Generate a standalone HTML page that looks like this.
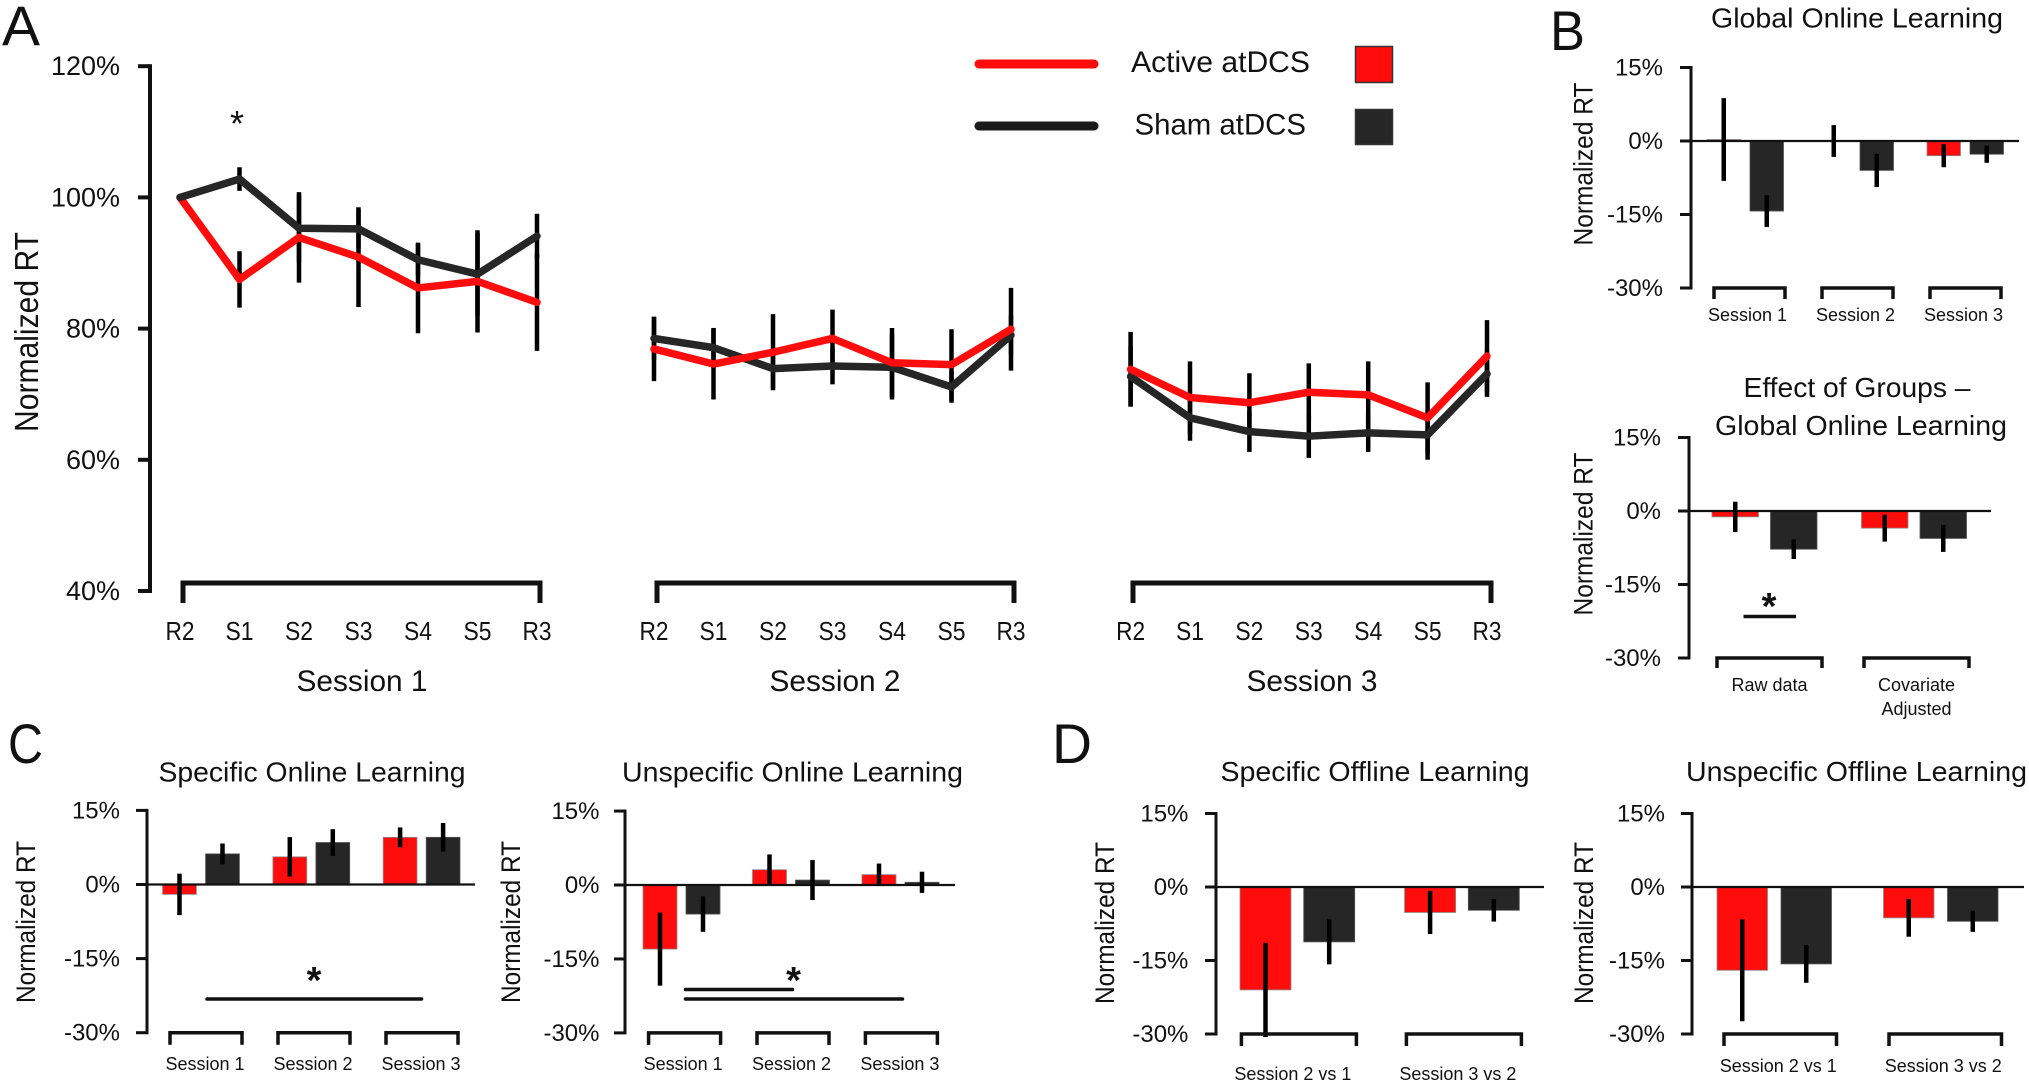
<!DOCTYPE html>
<html lang="en">
<head>
<meta charset="utf-8">
<title>Normalized RT by session and stimulation group</title>
<style>
  html, body { margin: 0; padding: 0; background: #fff; }
  svg { display: block; font-family: "Liberation Sans", sans-serif; fill: #111; }
</style>
</head>
<body>
<svg id="figure" xmlns="http://www.w3.org/2000/svg" width="2029" height="1084" viewBox="0 0 2029 1084">
  <rect x="0" y="0" width="2029" height="1084" fill="#fff"/>

  <text x="2" y="45" font-size="56" textLength="38" lengthAdjust="spacingAndGlyphs">A</text>
  <text x="1550" y="50" font-size="56" textLength="35" lengthAdjust="spacingAndGlyphs">B</text>
  <text x="8" y="763" font-size="56" textLength="35" lengthAdjust="spacingAndGlyphs">C</text>
  <text x="1052" y="763" font-size="56" textLength="40" lengthAdjust="spacingAndGlyphs">D</text>

  <g>
    <line x1="979" y1="64" x2="1094" y2="64" stroke="#ff0d0d" stroke-width="9" stroke-linecap="round"/>
    <text x="1131" y="72" font-size="30" textLength="179" lengthAdjust="spacingAndGlyphs">Active atDCS</text>
    <rect x="1355.5" y="46.5" width="37" height="36" fill="#ff0d0d" stroke="#333" stroke-width="1.5"/>
    <line x1="979" y1="126" x2="1094" y2="126" stroke="#1a1a1a" stroke-width="9" stroke-linecap="round"/>
    <text x="1134.5" y="134.5" font-size="30" textLength="171.5" lengthAdjust="spacingAndGlyphs">Sham atDCS</text>
    <rect x="1355.5" y="109.5" width="37" height="35" fill="#262626" stroke="#333" stroke-width="1.5"/>
  </g>

  <text x="237" y="136" font-size="36" text-anchor="middle">*</text>

  <text x="1857" y="27.5" font-size="28" text-anchor="middle" textLength="292" lengthAdjust="spacingAndGlyphs">Global Online Learning</text>
  <text x="1857" y="397" font-size="28" text-anchor="middle" textLength="227" lengthAdjust="spacingAndGlyphs">Effect of Groups –</text>
  <text x="1861" y="435" font-size="28" text-anchor="middle" textLength="292" lengthAdjust="spacingAndGlyphs">Global Online Learning</text>
  <text x="312" y="781.5" font-size="28" text-anchor="middle" textLength="307" lengthAdjust="spacingAndGlyphs">Specific Online Learning</text>
  <text x="792.5" y="781.5" font-size="28" text-anchor="middle" textLength="341" lengthAdjust="spacingAndGlyphs">Unspecific Online Learning</text>
  <text x="1375" y="781" font-size="28" text-anchor="middle" textLength="309" lengthAdjust="spacingAndGlyphs">Specific Offline Learning</text>
  <text x="1856.5" y="781" font-size="28" text-anchor="middle" textLength="341" lengthAdjust="spacingAndGlyphs">Unspecific Offline Learning</text>

  <text transform="translate(38,332) rotate(-90)" font-size="33" text-anchor="middle" textLength="200" lengthAdjust="spacingAndGlyphs">Normalized RT</text>
  <text transform="translate(1592.5,164) rotate(-90)" font-size="27" text-anchor="middle" textLength="163" lengthAdjust="spacingAndGlyphs">Normalized RT</text>
  <text transform="translate(1592.5,534) rotate(-90)" font-size="27" text-anchor="middle" textLength="163" lengthAdjust="spacingAndGlyphs">Normalized RT</text>
  <text transform="translate(35,922) rotate(-90)" font-size="27" text-anchor="middle" textLength="162" lengthAdjust="spacingAndGlyphs">Normalized RT</text>
  <text transform="translate(520,922) rotate(-90)" font-size="27" text-anchor="middle" textLength="162" lengthAdjust="spacingAndGlyphs">Normalized RT</text>
  <text transform="translate(1114,923) rotate(-90)" font-size="27" text-anchor="middle" textLength="162" lengthAdjust="spacingAndGlyphs">Normalized RT</text>
  <text transform="translate(1593,923) rotate(-90)" font-size="27" text-anchor="middle" textLength="162" lengthAdjust="spacingAndGlyphs">Normalized RT</text>

  <g id="marks"></g>

  <g stroke="none">
    <line x1="1743.5" y1="616.5" x2="1796" y2="616.5" stroke="#111" stroke-width="3.5"/>
    <text x="1769" y="619" font-size="38" font-weight="bold" text-anchor="middle">*</text>
    <line x1="207" y1="999" x2="421.5" y2="999" stroke="#111" stroke-width="3.5" stroke-linecap="round"/>
    <text x="314" y="993" font-size="38" font-weight="bold" text-anchor="middle">*</text>
    <line x1="685.5" y1="989.5" x2="792.5" y2="989.5" stroke="#111" stroke-width="3.5" stroke-linecap="round"/>
    <line x1="685.5" y1="999" x2="902.5" y2="999" stroke="#111" stroke-width="3.5" stroke-linecap="round"/>
    <text x="793.5" y="993" font-size="38" font-weight="bold" text-anchor="middle">*</text>
  </g>
</svg>

<script>
// ---------- Panel A data (normalized RT, %) ----------
const pointLabels = ['R2', 'S1', 'S2', 'S3', 'S4', 'S5', 'R3'];
const sessionNames = ['Session 1', 'Session 2', 'Session 3'];
const panelATicks = [120, 100, 80, 60, 40];

const session1Active = [100, 87.5, 93.9, 90.9, 86.2, 87.2, 84];
const session1Sham = [100, 102.8, 95.3, 95.2, 90.5, 88.3, 94.1];
const session1ActiveErr = [0, 4.3, 6.9, 7.6, 6.9, 7.8, 7.4];
const session1ShamErr = [0, 1.8, 5.2, 3, 2.4, 6.3, 3.4];

const session2Active = [76.9, 74.6, 76.4, 78.5, 74.8, 74.5, 79.9];
const session2Sham = [78.5, 77.1, 73.9, 74.3, 74.1, 71.1, 79];
const session2ActiveErr = [4.9, 5.4, 5.8, 4.4, 5.3, 5.4, 6.3];
const session2ShamErr = [3.3, 3, 3, 2.8, 4.9, 2.4, 3];

const session3Active = [73.8, 69.5, 68.7, 70.3, 69.9, 66.4, 75.8];
const session3Sham = [72.7, 66.4, 64.3, 63.6, 64.1, 63.8, 73.1];
const session3ActiveErr = [5.7, 5.5, 4.5, 4.4, 5.1, 5.4, 5.5];
const session3ShamErr = [4.6, 3.5, 3.1, 3.3, 2.9, 3.8, 3.5];

// ---------- Bar panel data (normalized RT, %) ----------
const barTicks = [15, 0, -15, -30];
const onlineGroups = ['Session 1', 'Session 2', 'Session 3'];
const effectGroups = ['Raw data', 'Covariate\nAdjusted'];
const offlineGroups = ['Session 2 vs 1', 'Session 3 vs 2'];

const globalActive = [0.3, 0, -3];
const globalSham = [-14.3, -6, -2.7];
const globalActiveErr = [8.45, 3.25, 2.35];
const globalShamErr = [3.25, 3.4, 1.75];

const effectActive = [-1.2, -3.5];
const effectSham = [-7.8, -5.6];
const effectActiveErr = [3.1, 2.75];
const effectShamErr = [2, 2.75];

const specificOnlineActive = [-2, 5.6, 9.55];
const specificOnlineSham = [6.2, 8.5, 9.55];
const specificOnlineActiveErr = [4.2, 4, 2];
const specificOnlineShamErr = [2.1, 2.7, 2.9];

const unspecificOnlineActive = [-13, 3.1, 2.1];
const unspecificOnlineSham = [-5.9, 1, 0.55];
const unspecificOnlineActiveErr = [7.4, 3.1, 2.25];
const unspecificOnlineShamErr = [3.6, 4.05, 2.15];

const specificOfflineActive = [-21, -5.2];
const specificOfflineSham = [-11.2, -4.75];
const specificOfflineActiveErr = [9.6, 4.4];
const specificOfflineShamErr = [4.6, 2.3];

const unspecificOfflineActive = [-17, -6.3];
const unspecificOfflineSham = [-15.7, -7];
const unspecificOfflineActiveErr = [10.4, 3.85];
const unspecificOfflineShamErr = [3.85, 2.15];

// ---------- Drawing ----------
const RED = '#ff0d0d';
const DARK = '#262626';
const INK = '#111';
const SVG_NS = 'http://www.w3.org/2000/svg';
const root = document.getElementById('marks');

function make(tag, attrs, name, text) {
  const el = document.createElementNS(SVG_NS, tag);
  for (const key in attrs) el.setAttribute(key, attrs[key]);
  
  
  if (text !== undefined) el.textContent = text;
  root.appendChild(el);
  return el;
}
function line(x1, y1, x2, y2, color, width, name, cap) {
  return make('line', { x1, y1, x2, y2, stroke: color, 'stroke-width': width, 'stroke-linecap': cap || 'butt' }, name);
}

// ---- Panel A ----
const yA = v => 197.4 + (100 - v) * 6.56;
const panelASessions = [
  { id: 'session-1', active: session1Active, sham: session1Sham, activeErr: session1ActiveErr, shamErr: session1ShamErr, x0: 180, step: 59.5, bracket: [183, 540], labelX: 362, shamOnTop: true },
  { id: 'session-2', active: session2Active, sham: session2Sham, activeErr: session2ActiveErr, shamErr: session2ShamErr, x0: 654, step: 59.5, bracket: [657, 1014], labelX: 835, shamOnTop: false },
  { id: 'session-3', active: session3Active, sham: session3Sham, activeErr: session3ActiveErr, shamErr: session3ShamErr, x0: 1130.6, step: 59.4, bracket: [1133, 1491], labelX: 1312, shamOnTop: false }
];

line(150, yA(panelATicks[0]) - 2, 150, yA(panelATicks[panelATicks.length - 1]) + 2, INK, 4, 'panel-a-y-axis');
panelATicks.forEach(t => {
  line(138, yA(t), 150, yA(t), INK, 4, 'panel-a-y-tick');
  make('text', { x: 120, y: yA(t) + 9, 'font-size': 27, 'text-anchor': 'end' }, 'panel-a-y-tick-label', t + '%');
});

panelASessions.forEach((s, si) => {
  const xOf = i => s.x0 + i * s.step;
  const err = (vals, errs, series) => vals.forEach((v, i) => {
    if (errs[i] > 0) line(xOf(i), yA(v + errs[i]), xOf(i), yA(v - errs[i]), '#000', 4.5, s.id + '-' + series + '-error-bar');
  });
  err(s.sham, s.shamErr, 'sham');
  err(s.active, s.activeErr, 'active');

  const poly = (vals, color, series) => make('polyline', {
    points: vals.map((v, i) => xOf(i) + ',' + yA(v)).join(' '),
    fill: 'none', stroke: color, 'stroke-width': 7.5, 'stroke-linejoin': 'round', 'stroke-linecap': 'round'
  }, s.id + '-' + series + '-line');
  if (s.shamOnTop) { poly(s.active, RED, 'active'); poly(s.sham, DARK, 'sham'); }
  else { poly(s.sham, DARK, 'sham'); poly(s.active, RED, 'active'); }

  make('path', {
    d: 'M' + s.bracket[0] + ' 603V583H' + s.bracket[1] + 'V603',
    fill: 'none', stroke: INK, 'stroke-width': 5
  }, s.id + '-bracket');

  pointLabels.forEach((lab, i) => {
    make('text', { x: xOf(i), y: 640, 'font-size': 26, 'text-anchor': 'middle', textLength: lab[0] === 'R' ? 29 : 28, lengthAdjust: 'spacingAndGlyphs' }, s.id + '-x-label', lab);
  });
  make('text', { x: s.labelX, y: 691, 'font-size': 30, 'text-anchor': 'middle', textLength: 131, lengthAdjust: 'spacingAndGlyphs' }, s.id + '-label', sessionNames[si]);
});

// ---- Bar panels ----
const barPanels = [
  { id: 'global', groups: onlineGroups, active: globalActive, sham: globalSham, activeErr: globalActiveErr, shamErr: globalShamErr,
    axisX: 1691, y0: 141, k: 4.9, barLeft: 1707, step: 110, barW: 33.5, offset: 43, zero: [1680, 2019],
    bracketLeft: 1714, bracketStep: 108, bracketW: 71, bracketH: 11, labelY: 321, labelShift: -2, tickRight: 1663 },
  { id: 'effect', groups: effectGroups, active: effectActive, sham: effectSham, activeErr: effectActiveErr, shamErr: effectShamErr,
    axisX: 1689, y0: 511, k: 4.9, barLeft: 1712, step: 149.5, barW: 46.5, offset: 58.5, zero: [1680, 1991],
    bracketLeft: 1717, bracketStep: 147, bracketW: 105, bracketH: 10, labelY: 691, labelShift: 0, tickRight: 1661 },
  { id: 'specific-online', groups: onlineGroups, active: specificOnlineActive, sham: specificOnlineSham, activeErr: specificOnlineActiveErr, shamErr: specificOnlineShamErr,
    axisX: 147, y0: 884.5, k: 4.94, barLeft: 162.6, step: 110.3, barW: 33.8, offset: 43, zero: [137, 475],
    bracketLeft: 170, bracketStep: 108, bracketW: 72, bracketH: 12, labelY: 1070, labelShift: -1, tickRight: 120 },
  { id: 'unspecific-online', groups: onlineGroups, active: unspecificOnlineActive, sham: unspecificOnlineSham, activeErr: unspecificOnlineActiveErr, shamErr: unspecificOnlineShamErr,
    axisX: 625, y0: 885, k: 4.93, barLeft: 643, step: 109.5, barW: 34, offset: 43, zero: [615.4, 955],
    bracketLeft: 648.6, bracketStep: 108.4, bracketW: 72, bracketH: 12, labelY: 1070, labelShift: -1.5, tickRight: 599.5 },
  { id: 'specific-offline', groups: offlineGroups, active: specificOfflineActive, sham: specificOfflineSham, activeErr: specificOfflineActiveErr, shamErr: specificOfflineShamErr,
    axisX: 1216, y0: 887, k: 4.9, barLeft: 1240, step: 164.6, barW: 51, offset: 63.7, zero: [1205.7, 1544],
    bracketLeft: 1241.4, bracketStep: 165, bracketW: 115, bracketH: 12, labelY: 1080, labelShift: -6, tickRight: 1188.4 },
  { id: 'unspecific-offline', groups: offlineGroups, active: unspecificOfflineActive, sham: unspecificOfflineSham, activeErr: unspecificOfflineActiveErr, shamErr: unspecificOfflineShamErr,
    axisX: 1692, y0: 887, k: 4.9, barLeft: 1717, step: 166.5, barW: 50.5, offset: 64, zero: [1682.7, 2024],
    bracketLeft: 1724, bracketStep: 165, bracketW: 112.5, bracketH: 12, labelY: 1072, labelShift: -2, tickRight: 1665 }
];

barPanels.forEach(p => {
  const y = v => p.y0 - v * p.k;
  const series = [
    { key: 'active', values: p.active, errs: p.activeErr, color: RED, edge: '#8a8a8a', shift: 0 },
    { key: 'sham', values: p.sham, errs: p.shamErr, color: DARK, edge: '#555', shift: p.offset }
  ];

  series.forEach(s => s.values.forEach((v, i) => {
    const x = p.barLeft + i * p.step + s.shift;
    const top = Math.min(y(v), y(0));
    const h = Math.abs(y(v) - y(0));
    if (h > 0) {
      make('rect', { x, y: top, width: p.barW, height: h, fill: s.color, stroke: s.edge, 'stroke-width': 0.8 }, p.id + '-bar-' + s.key);
    }
  }));

  line(p.axisX, y(15) - 1.5, p.axisX, y(-30) + 1.5, INK, 3, p.id + '-y-axis');
  line(p.zero[0], y(0), p.zero[1], y(0), INK, 2.2, p.id + '-zero-line');
  barTicks.forEach(t => {
    line(p.axisX - 11, y(t), p.axisX, y(t), INK, 3, p.id + '-y-tick');
    make('text', { x: p.tickRight, y: y(t) + 8, 'font-size': 24, 'text-anchor': 'end' }, p.id + '-y-tick-label', t + '%');
  });

  series.forEach(s => s.values.forEach((v, i) => {
    const x = p.barLeft + i * p.step + s.shift + p.barW / 2;
    line(x, y(v + s.errs[i]), x, y(v - s.errs[i]), '#000', 4.5, p.id + '-error-bar-' + s.key);
  }));

  p.groups.forEach((g, i) => {
    const left = p.bracketLeft + i * p.bracketStep;
    const top = y(-30);
    make('path', {
      d: 'M' + left + ' ' + (top + p.bracketH) + 'V' + top + 'H' + (left + p.bracketW) + 'V' + (top + p.bracketH),
      fill: 'none', stroke: INK, 'stroke-width': 3.5
    }, p.id + '-bracket');
    g.split('\n').forEach((part, j) => {
      make('text', { x: left + p.bracketW / 2 + p.labelShift, y: p.labelY + j * 24, 'font-size': 18, 'text-anchor': 'middle' }, p.id + '-x-label', part);
    });
  });
});
</script>
</body>
</html>
